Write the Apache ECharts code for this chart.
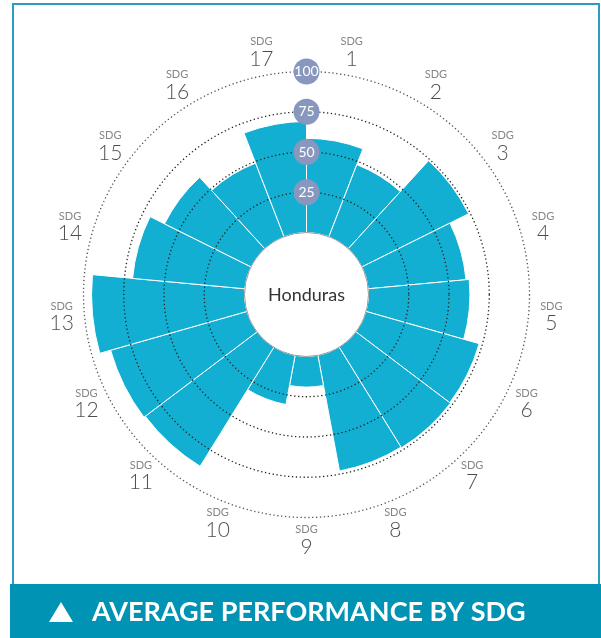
<!DOCTYPE html>
<html>
<head>
<meta charset="utf-8">
<script src="https://cdn.jsdelivr.net/npm/echarts@6/dist/echarts.min.js"></script>
<style>
  html, body { margin: 0; padding: 0; background: #fff; }
  #main { width: 601px; height: 638px; }
</style>
</head>
<body>
<div id="main"></div>
<script>
var sdgNumbers = ['1', '2', '3', '4', '5', '6', '7', '8', '9', '10', '11', '12', '13', '14', '15', '16', '17'];
var sdgScores = [58.5, 48, 74, 61, 63, 73, 73.5, 73, 19, 31, 87, 88, 95, 70, 60, 49, 69];
var ringTicks = [0, 25, 50, 75, 100];
var countryName = 'Honduras';
var chartTitle = 'AVERAGE PERFORMANCE BY SDG';

var cx = 306.5, cy = 294.5;
var labelRadius = 114.2; // in axis units, sits just outside the 100 ring

// label points: one per sector, placed through the polar axes
var labelPoints = sdgNumbers.map(function (n, i) {
	return [labelRadius, i];
});

var option = {
	animation: false,
	backgroundColor: '#fff',
	polar: {
		center: [cx, cy],
		radius: [62, 223]
	},
	angleAxis: {
		type: 'category',
		data: sdgNumbers,
		startAngle: 90,
		clockwise: true,
		axisLine: { show: false },
		axisTick: { show: false },
		axisLabel: { show: false },
		splitLine: { show: false }
	},
	radiusAxis: {
		type: 'value',
		min: ringTicks[0],
		max: ringTicks[ringTicks.length - 1],
		interval: 25,
		z: 10,
		axisLine: { show: false },
		axisTick: { show: false },
		splitLine: {
			show: true,
			lineStyle: {
				color: ['rgba(0,0,0,0)', '#222', '#222', '#222', '#555'],
				width: 1.3,
				type: [1.3, 2.6]
			}
		},
		axisLabel: {
			showMinLabel: false,
			margin: 0,
			align: 'center',
			verticalAlign: 'middle',
			color: '#fff',
			fontFamily: 'Lato',
			fontSize: 14,
			width: 26,
			height: 26,
			lineHeight: 26,
			backgroundColor: '#8797be',
			borderRadius: 13
		}
	},
	graphic: [
		{
			type: 'rect',
			z: 1,
			shape: { x: 13, y: 4, width: 586, height: 590 },
			style: { fill: 'none', stroke: '#2e9cc0', lineWidth: 2 }
		},
		{
			type: 'circle',
			z: 20,
			shape: { cx: cx, cy: cy, r: 62 },
			style: { fill: '#fff', stroke: '#9a9a9a', lineWidth: 1 }
		},
		{
			type: 'text',
			z: 21,
			x: cx,
			y: cy + 1,
			style: {
				text: countryName,
				fill: '#333',
				font: '18px Lato',
				textAlign: 'center',
				textVerticalAlign: 'middle'
			}
		},
		{
			type: 'rect',
			z: 20,
			shape: { x: 10, y: 584, width: 591, height: 54 },
			style: { fill: '#0093b4' }
		},
		{
			type: 'polygon',
			z: 21,
			shape: { points: [[49, 622], [61, 602], [73, 622]] },
			style: { fill: '#fff' }
		},
		{
			type: 'text',
			z: 21,
			x: 92,
			y: 612,
			style: {
				text: chartTitle,
				fill: '#fff',
				font: 'bold 27px Lato',
				textAlign: 'left',
				textVerticalAlign: 'middle'
			}
		}
	],
	series: [
		{
			type: 'bar',
			coordinateSystem: 'polar',
			data: sdgScores,
			barCategoryGap: '0%',
			itemStyle: {
				color: '#12afd3',
				borderColor: '#fff',
				borderWidth: 1
			},
			z: 2
		},
		{
			type: 'scatter',
			coordinateSystem: 'polar',
			data: labelPoints,
			symbolSize: 0,
			clip: false,
			silent: true,
			label: {
				show: true,
				position: 'inside',
				formatter: function (p) {
					return '{a|SDG}\n{b|' + sdgNumbers[p.dataIndex] + '}';
				},
				rich: {
					a: { fontFamily: 'Lato', fontSize: 11, lineHeight: 13, color: '#666', align: 'center' },
					b: { fontFamily: 'Lato', fontWeight: 300, fontSize: 21, lineHeight: 22, color: '#1e1e1e', align: 'center' }
				}
			}
		}
	]
};

var myChart = echarts.init(document.getElementById('main'));
myChart.setOption(option);
</script>
</body>
</html>
